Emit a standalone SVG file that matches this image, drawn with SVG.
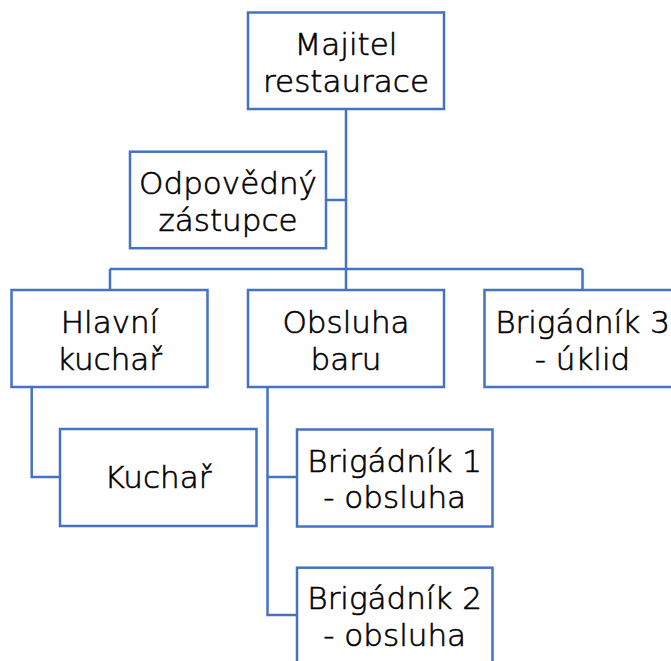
<svg xmlns="http://www.w3.org/2000/svg" width="671" height="661" viewBox="0 0 671 661">
<style>
.box{fill:#fff;stroke:#4472C4;stroke-width:2.5}
.ln{fill:none;stroke:#4472C4;stroke-width:2.5}
text{font-family:"DejaVu Sans",sans-serif;font-size:31px;font-weight:300;fill:#000;stroke:#000;stroke-width:0.6;text-anchor:middle}
</style>
<rect width="671" height="661" fill="#fff"/>
<g id="connectors">
<path class="ln" d="M346,109V269M326,200H346M110,269H582.5M110,269V290M346,269V290M582.5,269V290"/>
<path class="ln" d="M31.7,387V477H60"/>
<path class="ln" d="M267.5,387V615H297M267.5,477H297"/>
</g>
<g id="majitel"><rect class="box" x="248" y="12.5" width="196" height="96.5"/><text x="346" y="55">Majitel</text><text x="346" y="91.5">restaurace</text></g>
<g id="zastupce"><rect class="box" x="130" y="151.7" width="196" height="96.5"/><text x="228" y="194.3">Odpovědný</text><text x="228" y="230.7">zástupce</text></g>
<g id="hlavni"><rect class="box" x="11.5" y="290" width="196" height="97"/><text x="109.5" y="333">Hlavní</text><text x="109.5" y="369.5">kuchař</text></g>
<g id="obsluha"><rect class="box" x="248" y="290" width="196" height="97"/><text x="346" y="333">Obsluha</text><text x="346" y="369.5">baru</text></g>
<g id="brig3"><rect class="box" x="484.5" y="290" width="196" height="97"/><text x="582.5" y="333">Brigádník 3</text><text x="582.5" y="369.5">- úklid</text></g>
<g id="kuchar"><rect class="box" x="60" y="429" width="196.5" height="97"/><text x="158" y="488.3">Kuchař</text></g>
<g id="brig1"><rect class="box" x="297" y="429.5" width="195.5" height="97"/><text x="394.7" y="471.7">Brigádník 1</text><text x="394.7" y="508.3">- obsluha</text></g>
<g id="brig2"><rect class="box" x="297" y="567.7" width="195.5" height="97"/><text x="394.7" y="609.3">Brigádník 2</text><text x="394.7" y="646">- obsluha</text></g>
</svg>
